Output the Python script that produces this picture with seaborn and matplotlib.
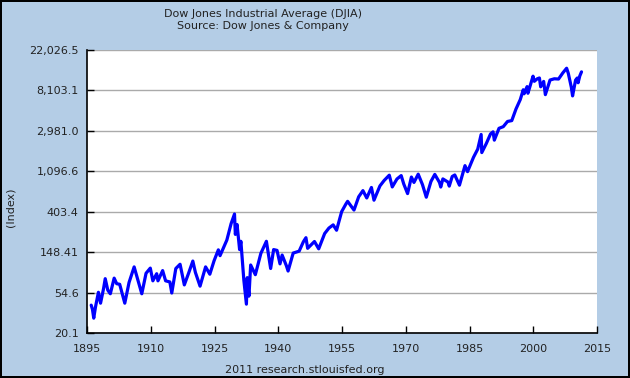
import numpy as np
import pandas as pd
import seaborn as sb
import matplotlib.pyplot as plt

# DJIA (year fraction, index level)
years = [1896.0, 1896.3, 1896.6, 1897.0, 1897.7, 1898.2, 1898.9, 1899.3, 1899.9, 1900.5,
         1901.4, 1902.0, 1902.7, 1903.9, 1904.9, 1905.9, 1906.1, 1907.9, 1908.9, 1909.9,
         1910.5, 1911.4, 1911.7, 1912.8, 1913.5, 1914.5, 1914.95, 1915.9, 1916.9, 1917.9,
         1918.9, 1919.9, 1920.5, 1921.6, 1922.9, 1923.9, 1924.9, 1925.9, 1926.3, 1927.9,
         1928.9, 1929.7, 1929.9, 1930.3, 1930.9, 1931.2, 1931.9, 1932.5, 1932.7, 1933.1,
         1933.5, 1934.6, 1935.9, 1937.2, 1938.2, 1938.9, 1939.7, 1940.4, 1940.9, 1941.9,
         1942.3, 1943.5, 1944.9, 1945.9, 1946.5, 1946.9, 1947.9, 1948.5, 1949.5, 1950.9,
         1951.9, 1952.9, 1953.7, 1954.9, 1955.9, 1956.3, 1957.8, 1958.9, 1959.9, 1960.8,
         1961.9, 1962.5, 1963.9, 1964.9, 1966.1, 1966.8, 1967.9, 1968.9, 1969.5, 1970.4,
         1971.3, 1971.9, 1972.9, 1973.9, 1974.8, 1975.9, 1976.8, 1977.9, 1978.2, 1978.7,
         1979.9, 1980.2, 1980.9, 1981.5, 1982.6, 1983.9, 1984.5, 1985.9, 1986.9, 1987.7,
         1987.85, 1988.9, 1989.9, 1990.5, 1990.8, 1991.9, 1992.9, 1993.9, 1994.9, 1995.9,
         1996.9, 1997.6, 1997.8, 1998.5, 1998.7, 1999.9, 2000.2, 2000.9, 2001.4, 2001.7,
         2002.4, 2002.8, 2003.9, 2004.9, 2005.9, 2006.9, 2007.8, 2008.2, 2008.9, 2009.2,
         2009.9, 2010.3, 2010.5, 2010.9, 2011.3]
djia = [40, 36, 29, 38, 55, 42, 60, 77, 58, 53,
        78, 68, 67, 42, 70, 96, 103, 53, 88, 100,
        73, 87, 73, 94, 73, 71, 54, 99, 110, 66,
        88, 119, 90, 64, 103, 86, 120, 157, 136, 200,
        300, 381, 230, 294, 158, 194, 74, 41, 79, 50,
        108, 85, 144, 194, 99, 158, 155, 111, 138, 106,
        93, 145, 152, 192, 212, 163, 181, 193, 161, 235,
        269, 291, 255, 404, 488, 521, 420, 583, 679, 566,
        734, 536, 763, 874, 995, 744, 905, 985, 800, 631,
        950, 831, 1020, 788, 577, 852, 1014, 831, 742, 907,
        839, 759, 964, 1000, 777, 1259, 1086, 1547, 1896, 2722,
        1739, 2169, 2753, 2905, 2365, 3169, 3301, 3754, 3834, 5117,
        6448, 8223, 7442, 8883, 7539, 11497, 10128, 10787, 11000, 8847,
        10100, 7286, 10454, 10783, 10718, 12463, 14000, 12300, 8776, 7062,
        10428, 11000, 9774, 11578, 12800]

x_ticks = [1895, 1910, 1925, 1940, 1955, 1970, 1985, 2000, 2015]
y_labels = ["20.1", "54.6", "148.41", "403.4", "1,096.6", "2,981.0", "8,103.1", "22,026.5"]

df = pd.DataFrame({"year": years, "djia": djia})

sb.set_style("white")
plt.rcParams["font.family"] = ["DejaVu Sans"]
bg = "#b4cde6"

fig = plt.figure(figsize=(6.3, 3.78), dpi=100, facecolor=bg,
                 edgecolor="black", linewidth=1.5)
ax = fig.add_axes([0.138, 0.119, 0.81, 0.749])

sb.lineplot(data=df, x="year", y="djia", ax=ax, color="#0000ff", linewidth=2.3)

ax.set_yscale("log")
ax.set_ylim(np.exp(3), np.exp(10))
ax.set_yticks(np.exp(np.arange(3, 11)))
ax.set_yticklabels(y_labels)
ax.minorticks_off()
ax.set_xlim(1895, 2015)
ax.set_xticks(x_ticks)
ax.grid(axis="y", color="#aaaaaa", linewidth=1)
ax.grid(axis="x", visible=False)
ax.set_xlabel("")
ax.set_ylabel("")

for side in ["top", "right"]:
    ax.spines[side].set_visible(False)
for side in ["left", "bottom"]:
    ax.spines[side].set_color("black")
    ax.spines[side].set_linewidth(1.2)
ax.tick_params(axis="both", direction="in", length=5, width=1, color="black",
               labelsize=8, labelcolor="#222222", left=True, bottom=True)
ax.tick_params(axis="x", pad=8)
ax.tick_params(axis="y", pad=6)

fig.text(0.418, 0.962, "Dow Jones Industrial Average (DJIA)", ha="center", va="center",
         fontsize=8, color="#222222")
fig.text(0.418, 0.930, "Source: Dow Jones & Company", ha="center", va="center",
         fontsize=8, color="#222222")
fig.text(0.017, 0.452, "(Index)", rotation=90, ha="center", va="center",
         fontsize=8, color="#222222")
fig.text(0.483, 0.022, "2011 research.stlouisfed.org", ha="center", va="center",
         fontsize=8, color="#222222")

fig.savefig("out.png", dpi=100, facecolor=bg, edgecolor="black")
